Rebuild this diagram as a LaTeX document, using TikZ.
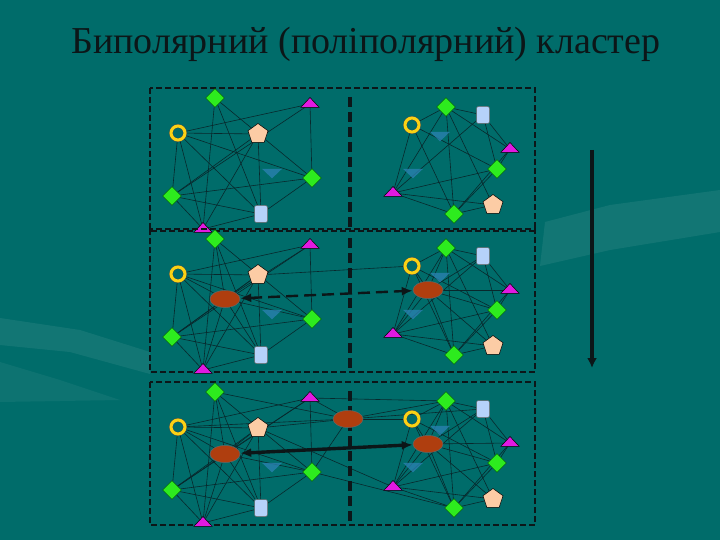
\documentclass[tikz,border=0pt]{standalone}
\usepackage{fontspec}
\setmainfont{Liberation Serif}
\usetikzlibrary{shapes.geometric,arrows.meta}

\definecolor{sea}{RGB}{0,108,106}
\definecolor{wire}{RGB}{8,40,44}
\definecolor{leaf}{RGB}{45,235,30}
\definecolor{plum}{RGB}{225,25,225}
\definecolor{peach}{RGB}{252,204,165}
\definecolor{ice}{RGB}{182,210,250}
\definecolor{rust}{RGB}{175,62,15}
\definecolor{gold}{RGB}{250,210,20}
\definecolor{dusk}{RGB}{45,130,180}
\definecolor{ink}{RGB}{12,22,24}

\pgfdeclarelayer{back}
\pgfdeclarelayer{wires}
\pgfsetlayers{back,wires,main}

\tikzset{
  gem/.style={diamond, fill=leaf, draw=black!70!green, line width=0.4pt, minimum size=19pt, inner sep=0pt},
  peak/.style={regular polygon, regular polygon sides=3, fill=plum, draw=black, line width=0.5pt, minimum size=21pt, inner sep=0pt, yscale=0.62},
  dip/.style={regular polygon, regular polygon sides=3, shape border rotate=180, fill=dusk, opacity=0.75, minimum size=23pt, inner sep=0pt, yscale=0.55},
  ring/.style={circle, draw=black!70, double=gold, double distance=3pt, line width=0.4pt, minimum size=14pt, inner sep=0pt},
  penta/.style={regular polygon, regular polygon sides=5, fill=peach, draw=black, line width=0.5pt, minimum size=21pt, inner sep=0pt},
  box/.style={rectangle, rounded corners=2pt, fill=ice, draw=black!60, line width=0.5pt, minimum width=13pt, minimum height=17pt, inner sep=0pt},
  blob/.style={ellipse, fill=rust, draw=black!60, line width=0.5pt, minimum width=30pt, minimum height=17pt, inner sep=0pt},
  wire/.style={draw=wire, line width=0.6pt},
  frame/.style={draw=ink, dashed, line width=1.7pt, dash pattern=on 6pt off 3pt},
  split/.style={draw=ink, line width=3.2pt, dash pattern=on 10pt off 5pt},
  link/.style={draw=ink, {Latex[length=11pt,width=9pt]}-{Latex[length=11pt,width=9pt]}}
}

\begin{document}
\begin{tikzpicture}[x=1pt, y=-1pt]
\begin{pgfonlayer}{back}
\fill[sea] (0,0) rectangle (720,540);
\fill[white, opacity=0.07] (545,222) -- (610,205) -- (720,190) -- (720,232) -- (610,250) -- (540,266) -- cycle;
\fill[white, opacity=0.07] (0,318) -- (80,330) -- (150,352) -- (150,374) -- (70,352) -- (0,345) -- cycle;
\fill[white, opacity=0.05] (0,362) -- (60,380) -- (120,400) -- (0,402) -- cycle;
\end{pgfonlayer}

\node (title) at (366,44) [font=\fontsize{38}{44}\selectfont, text=ink] {Биполярний (поліполярний) кластер};

% three copies of the two groups
\foreach \row/\dy in {a/0, b/141, c/294}{
\begin{scope}[shift={(0,\dy)}, name prefix=\row-]
\draw[frame] (150,88) rectangle (535,231);
\draw[split] (350,97) -- (350,231);

% left group
\node (lG1) at (215,98) [gem] {};
\node (lM1) at (310,104) [peak] {};
\node (lY) at (178,133) [ring] {};
\node (lP) at (258,134) [penta] {};
\node (lB) at (272,172) [dip] {};
\node (lG2) at (312,178) [gem] {};
\node (lG3) at (172,196) [gem] {};
\node (lR) at (261,214) [box] {};
\node (lM2) at (203,229) [peak] {};

% right group
\node (rG1) at (446,107) [gem] {};
\node (rR) at (483,115) [box] {};
\node (rY) at (412,125) [ring] {};
\node (rB1) at (440,135) [dip] {};
\node (rM1) at (510,149) [peak] {};
\node (rB2) at (413,172) [dip] {};
\node (rG2) at (497,169) [gem] {};
\node (rM2) at (393,193) [peak] {};
\node (rP) at (493,205) [penta] {};
\node (rG3) at (454,214) [gem] {};

\begin{pgfonlayer}{wires}
\foreach \u/\v in {lY/lP, lY/lM1, lY/lG3, lY/lM2, lY/lG2, lY/lR, lG1/lM2, lG1/lR, lG1/lG2, lM1/lG2,
  lM1/lG3, lP/lG3, lP/lR, lP/lM2, lG3/lG2, lG3/lR, lG3/lM2, lM2/lR, lR/lG2}
  \draw[wire] (\u) -- (\v);
\foreach \u/\v in {rY/rM2, rY/rG1, rY/rG2, rY/rG3, rG1/rR, rG1/rM1, rG1/rG3, rG1/rM2, rG1/rP, rR/rM1,
  rR/rG2, rR/rM2, rM1/rG2, rM1/rG3, rG2/rM2, rG2/rG3, rM2/rG3, rM2/rP, rG3/rP}
  \draw[wire] (\u) -- (\v);
\end{pgfonlayer}
\end{scope}
}

% centres that appear
\node (b-lE) at (225,299) [blob] {};
\node (b-rE) at (428,290) [blob] {};
\node (c-lE) at (225,454) [blob] {};
\node (c-rE) at (428,444) [blob] {};
\node (c-mE) at (348,419) [blob] {};

\begin{pgfonlayer}{wires}
\foreach \r in {b, c}{
  \foreach \v in {lY, lG1, lP, lG3, lR, lM2, lG2, lM1}
    \draw[wire] (\r-lE) -- (\r-\v);
  \foreach \v in {rY, rG1, rR, rM1, rG2, rM2, rG3, rP}
    \draw[wire] (\r-rE) -- (\r-\v);
}
\draw[wire] (b-lP) -- (b-rY);
\foreach \v in {lM1, lG1, lY, lP, lG2, rG1, rR, rY}
  \draw[wire] (c-mE) -- (c-\v);
\draw[wire] (c-lM1) -- (c-rG1);
\draw[wire] (c-lP) -- (c-rM2);
\draw[wire] (c-lG2) -- (c-rG3);
\end{pgfonlayer}

\draw[link, line width=2.4pt, dashed, dash pattern=on 12pt off 6pt] (b-lE) -- (b-rE);
\draw[link, line width=3.4pt] (c-lE) -- (c-rE);

% time axis
\coordinate (top) at (592,150);
\coordinate (bottom) at (592,368);
\draw[ink, line width=3.2pt, -{Latex[length=10pt,width=10pt]}] (top) -- (bottom);
\end{tikzpicture}
\end{document}
